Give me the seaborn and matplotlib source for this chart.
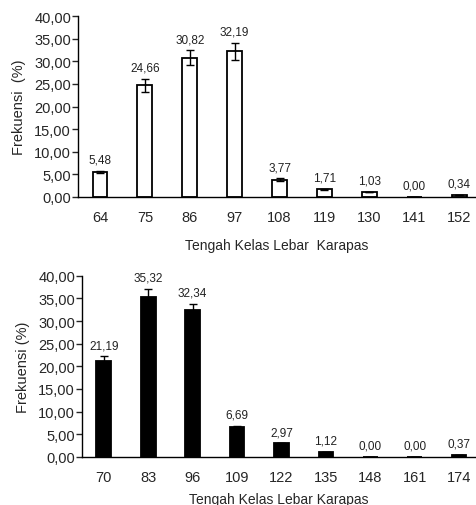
import matplotlib
matplotlib.use('Agg')
import matplotlib.pyplot as plt
from matplotlib.ticker import FuncFormatter
import pandas as pd
import seaborn as sns

# Top panel data
top_classes = ['64', '75', '86', '97', '108', '119', '130', '141', '152']
top_freq = [5.48, 24.66, 30.82, 32.19, 3.77, 1.71, 1.03, 0.00, 0.34]
top_err = [0.3, 1.4, 1.6, 1.8, 0.3, 0.1, 0.0, 0.0, 0.0]

# Bottom panel data
bot_classes = ['70', '83', '96', '109', '122', '135', '148', '161', '174']
bot_freq = [21.19, 35.32, 32.34, 6.69, 2.97, 1.12, 0.00, 0.00, 0.37]
bot_err = [1.0, 1.7, 1.5, 0.2, 0.0, 0.0, 0.0, 0.0, 0.0]

sns.set_style('white')
plt.rcParams['font.family'] = ['Liberation Sans', 'DejaVu Sans']


def comma(v, pos=None):
    return '{:.2f}'.format(v).replace('.', ',')


def draw_panel(ax, classes, freq, err, fill, ylabel, xlabel):
    df = pd.DataFrame({'kelas': classes, 'frek': freq})
    sns.barplot(data=df, x='kelas', y='frek', ax=ax, color=fill,
                edgecolor='black', linewidth=1.3, width=0.33, errorbar=None)
    ax.errorbar(range(len(classes)), freq, yerr=err, fmt='none',
                ecolor='black', elinewidth=1, capsize=3, capthick=1)
    for i, v in enumerate(freq):
        ax.text(i, v + err[i] + 1.2, comma(v), ha='center',
                va='bottom', fontsize=8.5, color='#222222')
    ax.set_ylim(0, 40)
    ax.set_yticks(range(0, 45, 5))
    ax.yaxis.set_major_formatter(FuncFormatter(comma))
    ax.set_xlim(-0.49, 8.35)
    ax.set_xlabel(xlabel, fontsize=10, labelpad=10)
    ax.set_ylabel(ylabel, fontsize=10.5)
    ax.yaxis.set_label_coords(-0.132, 0.5)
    ax.tick_params(axis='y', labelsize=10.5, left=True, length=4, width=1,
                   pad=1)
    ax.tick_params(axis='x', labelsize=10.5, bottom=False, pad=6)
    sns.despine(ax=ax)
    for s in ('left', 'bottom'):
        ax.spines[s].set_color('black')
        ax.spines[s].set_linewidth(1)


fig = plt.figure(figsize=(4.77, 5.06), dpi=100)
ax1 = fig.add_axes([0.1635, 0.609, 0.832, 0.357])
ax2 = fig.add_axes([0.172, 0.095, 0.823, 0.358])

draw_panel(ax1, top_classes, top_freq, top_err, 'white',
           'Frekuensi  (%)', 'Tengah Kelas Lebar  Karapas')
draw_panel(ax2, bot_classes, bot_freq, bot_err, 'black',
           'Frekuensi (%)', 'Tengah Kelas Lebar Karapas')
ax2.xaxis.labelpad = 6

fig.savefig('out.png', dpi=100)
